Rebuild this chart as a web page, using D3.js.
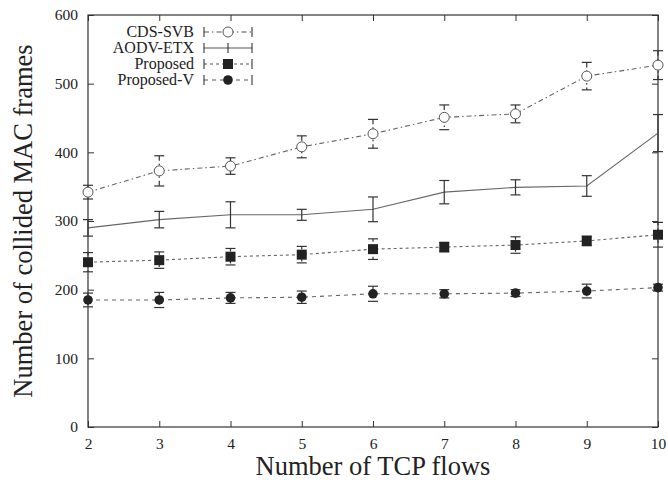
<!DOCTYPE html>
<html>
<head>
<meta charset="utf-8">
<script src="https://cdn.jsdelivr.net/npm/d3@7"></script>
<style>
  body { margin: 0; background: #fff; }
  text { font-family: "Liberation Serif", "DejaVu Serif", serif; fill: #222; }
</style>
</head>
<body>
<svg id="chart" width="668" height="486"></svg>
<script>
// values
const flows = [2, 3, 4, 5, 6, 7, 8, 9, 10];
const cdsSvb = [342, 373, 380, 408, 427, 451, 456, 511, 527];
const cdsSvbErr = [10, 22, 12, 16, 21, 18, 13, 20, 21];
const aodvEtx = [290, 302, 309, 309, 317, 342, 349, 351, 428];
const aodvEtxErr = [12, 12, 19, 8, 18, 17, 11, 15, 27];
const proposed = [240, 243, 248, 251, 259, 262, 265, 271, 280];
const proposedErr = [14, 12, 12, 12, 15, 7, 12, 7, 18];
const proposedV = [185, 185, 188, 189, 194, 194, 195, 198, 203];
const proposedVErr = [10, 11, 8, 9, 11, 6, 5, 10, 5];
const yTicks = [0, 100, 200, 300, 400, 500, 600];

const series = [
  { name: 'CDS-SVB', vals: cdsSvb, err: cdsSvbErr, dash: '5,3,1.5,3', marker: 'open' },
  { name: 'AODV-ETX', vals: aodvEtx, err: aodvEtxErr, dash: null, marker: 'plus' },
  { name: 'Proposed', vals: proposed, err: proposedErr, dash: '3,3', marker: 'square' },
  { name: 'Proposed-V', vals: proposedV, err: proposedVErr, dash: '4,4', marker: 'dot' }
];

const svg = d3.select('#chart');
const pLeft = 88, pRight = 658, pTop = 15, pBottom = 427;

const x = d3.scaleLinear().domain([2, 10]).range([pLeft, pRight]);
const y = d3.scaleLinear().domain([0, 600]).range([pBottom, pTop]);

// axes, ticks pointing inward on all four sides
svg.append('g').attr('transform', `translate(0,${pBottom})`)
  .call(d3.axisBottom(x).tickValues(flows).tickSizeInner(-6).tickSizeOuter(0).tickPadding(11));
svg.append('g').attr('transform', `translate(0,${pTop})`)
  .call(d3.axisTop(x).tickValues(flows).tickSizeInner(-6).tickSizeOuter(0).tickFormat(''));
svg.append('g').attr('transform', `translate(${pLeft},0)`)
  .call(d3.axisLeft(y).tickValues(yTicks).tickSizeInner(-6).tickSizeOuter(0).tickPadding(10));
svg.append('g').attr('transform', `translate(${pRight},0)`)
  .call(d3.axisRight(y).tickValues(yTicks).tickSizeInner(-6).tickSizeOuter(0).tickFormat(''));

svg.selectAll('.domain').remove();
svg.selectAll('.tick line').attr('stroke', '#333');
svg.selectAll('.tick text').attr('font-size', 15.5).attr('fill', '#333');

svg.append('rect')
  .attr('x', pLeft).attr('y', pTop)
  .attr('width', pRight - pLeft).attr('height', pBottom - pTop)
  .attr('fill', 'none').attr('stroke', '#333').attr('stroke-width', 1.2);

// axis titles
svg.append('text')
  .attr('x', (pLeft + pRight) / 2).attr('y', 475)
  .attr('text-anchor', 'middle').attr('font-size', 26.5)
  .text('Number of TCP flows');
svg.append('text')
  .attr('transform', `translate(32,221) rotate(-90)`)
  .attr('text-anchor', 'middle').attr('font-size', 26.5)
  .text('Number of collided MAC frames');

function drawMarker(g, kind, cx, cy) {
  if (kind === 'open') {
    g.append('circle').attr('cx', cx).attr('cy', cy).attr('r', 5)
      .attr('fill', '#fff').attr('stroke', '#555').attr('stroke-width', 1);
  } else if (kind === 'square') {
    g.append('rect').attr('x', cx - 5).attr('y', cy - 5).attr('width', 10).attr('height', 10)
      .attr('fill', '#222');
  } else if (kind === 'dot') {
    g.append('circle').attr('cx', cx).attr('cy', cy).attr('r', 4.8).attr('fill', '#222');
  }
}

const line = d3.line().x((d, i) => x(flows[i])).y(d => y(d));

series.forEach(s => {
  const g = svg.append('g');
  g.append('path').datum(s.vals)
    .attr('d', line)
    .attr('fill', 'none')
    .attr('stroke', '#666')
    .attr('stroke-width', 1.1)
    .attr('stroke-dasharray', s.dash);
  // error bars
  s.vals.forEach((v, i) => {
    const cx = x(flows[i]);
    const y1 = y(v + s.err[i]), y2 = y(v - s.err[i]);
    const eb = g.append('g').attr('stroke', '#333').attr('stroke-width', 1.2);
    eb.append('line').attr('x1', cx).attr('x2', cx).attr('y1', y1).attr('y2', y2)
      .attr('stroke-dasharray', s.dash);
    eb.append('line').attr('x1', cx - 5).attr('x2', cx + 5).attr('y1', y1).attr('y2', y1);
    eb.append('line').attr('x1', cx - 5).attr('x2', cx + 5).attr('y1', y2).attr('y2', y2);
  });
  s.vals.forEach((v, i) => drawMarker(g, s.marker, x(flows[i]), y(v)));
});

// legend
const legend = svg.append('g');
series.forEach((s, i) => {
  const ly = 32 + i * 16;
  legend.append('text')
    .attr('x', 194).attr('y', ly + 5)
    .attr('text-anchor', 'end').attr('font-size', 16)
    .text(s.name);
  const lg = legend.append('g');
  lg.append('line').attr('x1', 204).attr('x2', 252).attr('y1', ly).attr('y2', ly)
    .attr('stroke', '#555').attr('stroke-width', 1.1).attr('stroke-dasharray', s.dash);
  [204, 252].forEach(ex => {
    lg.append('line').attr('x1', ex).attr('x2', ex).attr('y1', ly - 5).attr('y2', ly + 5)
      .attr('stroke', '#333').attr('stroke-width', 1.1);
  });
  if (s.marker === 'plus') {
    lg.append('line').attr('x1', 228).attr('x2', 228).attr('y1', ly - 5).attr('y2', ly + 5)
      .attr('stroke', '#333').attr('stroke-width', 1.1);
  } else {
    drawMarker(lg, s.marker, 228, ly);
  }
});
</script>
</body>
</html>
